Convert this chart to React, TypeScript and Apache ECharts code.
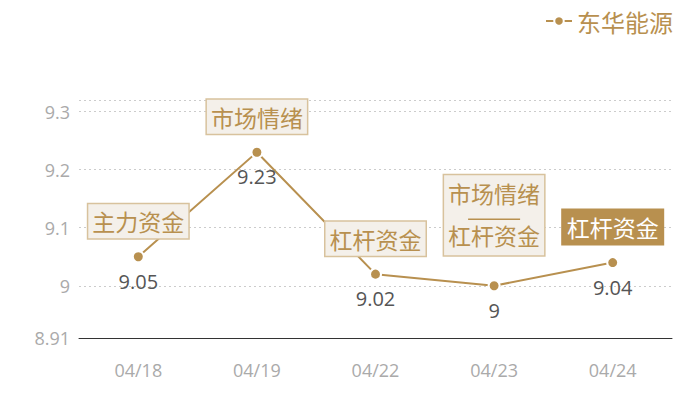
import React, { useEffect, useRef } from "react";
import * as echarts from "echarts";

const dates = ["04/18", "04/19", "04/22", "04/23", "04/24"];
const prices = [9.05, 9.23, 9.02, 9.0, 9.04];
// a tag with two parts is drawn as two lines split by a short rule
const tags = [["主力资金"], ["市场情绪"], ["杠杆资金"], ["市场情绪", "杠杆资金"], ["杠杆资金"]];
const highlighted = [false, false, false, false, true];
const seriesName = "东华能源";

const GOLD = "#b8904f";
const FONT = "Noto Sans CJK SC";
const NUM_FONT = "Open Sans";

const App: React.FC = () => {
  const chartRef = useRef<HTMLDivElement>(null);

  useEffect(() => {
    document.body.style.margin = "0";
    if (!chartRef.current) return;
    const myChart = echarts.init(chartRef.current, undefined, { renderer: "svg" });

    const marks = prices.map((v, i) => {
      const parts = tags[i];
      const multi = parts.length > 1;
      const hl = highlighted[i];
      const text = multi
        ? `{t|${parts[0]}}\n{g| }\n{s| }\n{b|${parts[1]}}`
        : parts[0];
      return {
        coord: [i, v],
        value: parts.join(""),
        label: {
          show: true,
          position: "top",
          distance: multi ? 30 : 18,
          formatter: text,
          fontFamily: FONT,
          fontSize: 23,
          lineHeight: 26,
          color: hl ? "#ffffff" : GOLD,
          backgroundColor: hl ? GOLD : "#f4f0ea",
          borderColor: hl ? GOLD : "#d8c29d",
          borderWidth: 1.5,
          padding: multi ? [2, 4, 5, 4] : [4, 4, 4, 4],
          rich: {
            t: { fontSize: 23, lineHeight: 32, color: GOLD, fontFamily: FONT },
            g: { fontSize: 2, lineHeight: 9 },
            s: { width: 52, height: 1.5, lineHeight: 2, backgroundColor: GOLD, fontSize: 2 },
            b: { fontSize: 23, lineHeight: 30, color: GOLD, fontFamily: FONT },
          },
        },
      };
    });

    const option: echarts.EChartsOption = {
      animation: false,
      textStyle: { fontFamily: FONT },
      legend: {
        right: 22,
        top: 4,
        itemWidth: 26,
        itemHeight: 12,
        itemGap: 6,
        textStyle: { color: GOLD, fontSize: 24, fontFamily: FONT },
        data: [seriesName],
      },
      grid: { left: 79, right: 28, top: 100, bottom: 62 },
      xAxis: {
        type: "category",
        data: dates,
        boundaryGap: true,
        axisLine: { lineStyle: { color: "#333", width: 1 } },
        axisTick: { show: false },
        axisLabel: { color: "#aaa", fontSize: 18, margin: 23, fontFamily: NUM_FONT },
      },
      yAxis: {
        type: "value",
        min: 8.91,
        max: 9.32,
        axisLine: { show: false },
        axisTick: { show: false },
        axisLabel: {
          color: "#aaa",
          fontSize: 18,
          margin: 9,
          showMaxLabel: false,
          fontFamily: NUM_FONT,
        },
        splitLine: { lineStyle: { color: "#ccc", type: [2, 3] } },
      },
      series: [
        {
          name: seriesName,
          type: "line",
          data: prices,
          symbol: "circle",
          symbolSize: 11,
          itemStyle: { color: GOLD, borderColor: "#fff", borderWidth: 2 },
          lineStyle: { color: GOLD, width: 2 },
          label: {
            show: true,
            position: "bottom",
            distance: 8,
            color: "#555",
            fontSize: 20,
            fontFamily: NUM_FONT,
          },
          markPoint: {
            symbol: "circle",
            symbolSize: 1,
            itemStyle: { color: "rgba(0,0,0,0)" },
            data: marks as any,
          },
          z: 2,
        },
      ],
    };

    myChart.setOption(option);
    return () => {
      myChart.dispose();
    };
  }, []);

  return <div ref={chartRef} style={{ width: "700px", height: "400px" }} />;
};

export default App;
